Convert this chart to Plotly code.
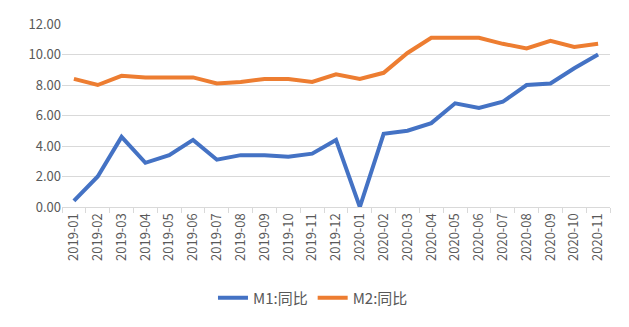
import plotly.graph_objects as go

months = ["2019-01","2019-02","2019-03","2019-04","2019-05","2019-06","2019-07","2019-08",
          "2019-09","2019-10","2019-11","2019-12","2020-01","2020-02","2020-03","2020-04",
          "2020-05","2020-06","2020-07","2020-08","2020-09","2020-10","2020-11"]
m1 = [0.4, 2.0, 4.6, 2.9, 3.4, 4.4, 3.1, 3.4, 3.4, 3.3, 3.5, 4.4,
      0.0, 4.8, 5.0, 5.5, 6.8, 6.5, 6.9, 8.0, 8.1, 9.1, 10.0]
m2 = [8.4, 8.0, 8.6, 8.5, 8.5, 8.5, 8.1, 8.2, 8.4, 8.4, 8.2, 8.7,
      8.4, 8.8, 10.1, 11.1, 11.1, 11.1, 10.7, 10.4, 10.9, 10.5, 10.7]
yticks = [0, 2, 4, 6, 8, 10, 12]

font_family = "Noto Sans CJK SC, Liberation Sans, sans-serif"

fig = go.Figure()
fig.add_trace(go.Scatter(x=months, y=m1, mode="lines", name="M1:同比",
                         line=dict(color="#4472c4", width=4)))
fig.add_trace(go.Scatter(x=months, y=m2, mode="lines", name="M2:同比",
                         line=dict(color="#ed7d31", width=4)))

fig.update_layout(
    width=629, height=327,
    margin=dict(l=62, r=19, t=24, b=120),
    paper_bgcolor="white", plot_bgcolor="white",
    font=dict(family=font_family, color="#595959", size=13),
    showlegend=True,
    legend=dict(orientation="h", x=0.458, xanchor="center", y=-0.497, yanchor="middle",
                font=dict(size=15, color="#595959"), tracegroupgap=0),
)
fig.update_xaxes(
    type="category", range=[-0.5, len(months) - 0.5],
    tickangle=-90, tickfont=dict(size=13, color="#595959"),
    showline=True, linecolor="#d9d9d9", linewidth=1,
    ticks="outside", tickson="boundaries", ticklen=5, tickcolor="#d9d9d9",
    showgrid=False, automargin=False,
)
fig.update_yaxes(
    range=[0, 12], tickvals=yticks, tickformat=".2f",
    showgrid=True, gridcolor="#d9d9d9", gridwidth=1,
    zeroline=False, showline=False, ticks="",
    tickfont=dict(size=13, color="#595959"), automargin=False,
)

fig.write_html("out.html")
